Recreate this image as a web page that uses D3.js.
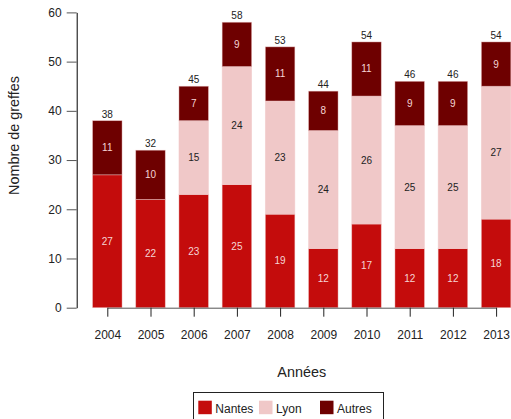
<!DOCTYPE html>
<html><head><meta charset="utf-8">
<script src="https://cdn.jsdelivr.net/npm/d3@7"></script>
<style>body{margin:0;background:#fff}svg{display:block;font-family:"Liberation Sans",Arial,sans-serif}</style>
</head><body><svg id="c" width="511" height="419"></svg>
<script>
const years = ["2004","2005","2006","2007","2008","2009","2010","2011","2012","2013"];
const nantes = [27,22,23,25,19,12,17,12,12,18];
const lyon   = [0,0,15,24,23,24,26,25,25,27];
const autres = [11,10,7,9,11,8,11,9,9,9];
const yTicks = [0,10,20,30,40,50,60];
const seriesNames = ["Nantes","Lyon","Autres"];
const colors = ["#C40C0C","#F0C8C8","#6E0000"];
const labelColors = ["#F5D5D5","#222222","#F5D5D5"];

const svg = d3.select("#c");
const x = d3.scaleBand().domain(years).range([85.7, 517.7]).paddingInner(0.317).paddingOuter(0.1585);
const y = d3.scaleLinear().domain([0,60]).range([307.7, 12.4]);

const table = years.map((yr,i)=>({year:yr, Nantes:nantes[i], Lyon:lyon[i], Autres:autres[i]}));
const stack = d3.stack().keys(seriesNames)(table);

stack.forEach((s,si)=>{
  const g = svg.append("g");
  g.selectAll("rect").data(s.filter(d=>d[1]-d[0]>0)).join("rect")
    .attr("x", d=>x(d.data.year)).attr("width", x.bandwidth())
    .attr("y", d=>y(d[1])).attr("height", d=>y(d[0])-y(d[1]))
    .attr("fill", colors[si]).attr("stroke","#F0C8C8").attr("stroke-opacity",0.6).attr("stroke-width",0.7);
  g.selectAll("text").data(s.filter(d=>d[1]-d[0]>0)).join("text")
    .attr("x", d=>x(d.data.year)+x.bandwidth()/2)
    .attr("y", d=>y((d[0]+d[1])/2)+3.5)
    .attr("text-anchor","middle").attr("font-size",10).attr("fill",labelColors[si])
    .text(d=>d[1]-d[0]);
});
// totals
svg.append("g").selectAll("text").data(table).join("text")
  .attr("x", d=>x(d.year)+x.bandwidth()/2)
  .attr("y", d=>y(d.Nantes+d.Lyon+d.Autres)-3)
  .attr("text-anchor","middle").attr("font-size",10).attr("fill","#222")
  .text(d=>d.Nantes+d.Lyon+d.Autres);

// y axis
const ya = svg.append("g").attr("transform","translate(76.7,0)")
  .call(d3.axisLeft(y).tickValues(yTicks).tickSize(10).tickPadding(5).tickSizeOuter(0));
ya.select(".domain").attr("stroke","#000");
ya.selectAll(".tick line").attr("stroke","#555");
ya.selectAll("text").attr("font-size",12).attr("fill","#222").attr("font-family","Liberation Sans, Arial, sans-serif");

// x axis
const first = x(years[0])+x.bandwidth()/2, last = x(years[years.length-1])+x.bandwidth()/2;
const xc = d3.scalePoint().domain(years).range([first,last]);
const xa = svg.append("g").attr("transform","translate(0,307.7)")
  .call(d3.axisBottom(xc).tickSize(9).tickPadding(14).tickSizeOuter(0));
xa.select(".domain").attr("stroke","#555");
xa.selectAll(".tick line").attr("stroke","#222");
xa.selectAll("text").attr("font-size",12).attr("fill","#222").attr("font-family","Liberation Sans, Arial, sans-serif");

svg.append("text").attr("x",301.7).attr("y",376.5).attr("text-anchor","middle")
  .attr("font-size",14.4).attr("fill","#222").text("Années");
svg.append("text").attr("transform","translate(18.5,135.5) rotate(-90)").attr("text-anchor","middle")
  .attr("font-size",14.4).attr("fill","#222").text("Nombre de greffes");

// legend
const lg = svg.append("g");
lg.append("rect").attr("x",193.5).attr("y",392.5).attr("width",190).attr("height",40)
  .attr("fill","none").attr("stroke","#222").attr("stroke-width",1);
const lx = [198.3, 259, 320];
seriesNames.forEach((n,i)=>{
  lg.append("rect").attr("x",lx[i]).attr("y",400.7).attr("width",13.5).attr("height",13.5).attr("fill",colors[i]);
  lg.append("text").attr("x",lx[i]+17).attr("y",412.5).attr("font-size",12).attr("fill","#222").text(n);
});
</script></body></html>
